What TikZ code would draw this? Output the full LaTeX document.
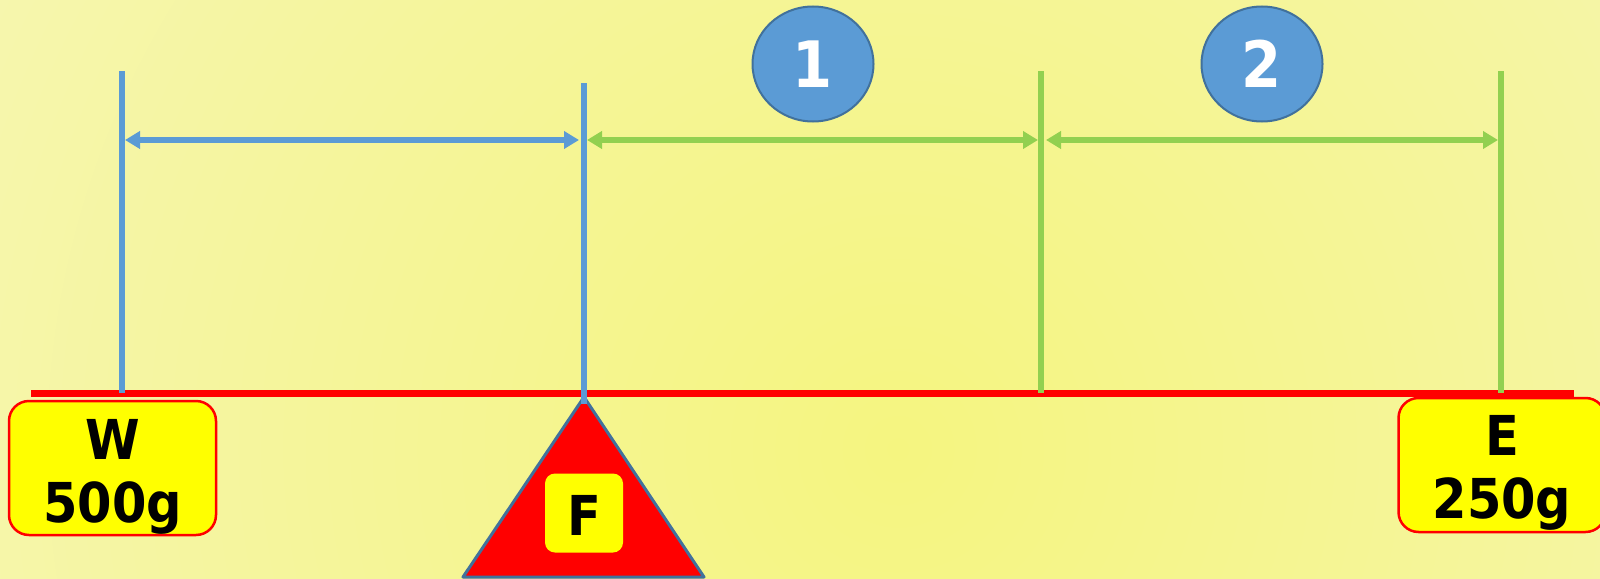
\documentclass[tikz,border=0pt]{standalone}
\usepackage{fontspec}
\setmainfont{DejaVu Sans Condensed}
\usepackage{tikz}
\usetikzlibrary{arrows.meta, shapes.geometric}
\definecolor{bgin}{RGB}{245, 245, 128}
\definecolor{bgout}{RGB}{246, 246, 204}
\definecolor{armblue}{RGB}{91, 155, 213}
\definecolor{armgreen}{RGB}{146, 208, 80}
\definecolor{rimblue}{RGB}{65, 113, 156}
\definecolor{boxyellow}{RGB}{255, 255, 0}

\begin{document}
\begin{tikzpicture}[x=1pt, y=-1pt,
    armline/.style={line width=5.5},
    dimarrow/.style={line width=5.5, {Triangle[length=15pt, width=17pt]}-{Triangle[length=15pt, width=17pt]}},
    weightbox/.style={draw=red, line width=2.5, fill=boxyellow, rounded corners=20,
      minimum width=207, minimum height=134},
    weighttext/.style={font=\fontsize{55}{63}\selectfont\bfseries, align=center},
    stepmark/.style={ellipse, draw=rimblue, line width=2, fill=armblue, text=white,
      minimum width=121, minimum height=115, font=\fontsize{64}{70}\selectfont\bfseries}]
  \useasboundingbox (0, 0) rectangle (1600, 578);
  \begin{scope}
    \clip (0, 0) rectangle (1600, 578);
    \shade[inner color=bgin, outer color=bgout] (-802, -1251) rectangle (2598, 2149);
  \end{scope}

  % fulcrum
  \coordinate (pivot) at (584, 397);
  \fill[red] (pivot) -- (463, 577) -- (704, 577) -- cycle;
  \draw[rimblue, line width=3, line join=round] (pivot) -- (463, 577) -- (704, 577) -- cycle;

  % lever
  \coordinate (beamleft) at (31, 393.5);
  \coordinate (beamright) at (1574, 393.5);
  \draw[red, line width=7] (beamleft) -- (beamright);

  \coordinate (wtop) at (122, 71);   \coordinate (wbot) at (122, 393);
  \coordinate (ftop) at (584, 83);   \coordinate (fbot) at (584, 404);
  \coordinate (mtop) at (1041, 71);  \coordinate (mbot) at (1041, 393);
  \coordinate (etop) at (1501, 71);  \coordinate (ebot) at (1501, 393);

  \draw[armline, armblue] (wtop) -- (wbot);
  \draw[armline, armblue] (ftop) -- (fbot);
  \draw[armline, armgreen] (mtop) -- (mbot);
  \draw[armline, armgreen] (etop) -- (ebot);

  \coordinate (wmark) at (122, 140);
  \coordinate (fmark) at (584, 140);
  \coordinate (mmark) at (1041, 140);
  \coordinate (emark) at (1501, 140);
  \draw[dimarrow, armblue, shorten <=3, shorten >=5] (wmark) -- (fmark);
  \draw[dimarrow, armgreen, shorten <=3, shorten >=3] (fmark) -- (mmark);
  \draw[dimarrow, armgreen, shorten <=5, shorten >=3] (mmark) -- (emark);

  \node[stepmark] (one) at (813, 64) {1};
  \node[stepmark] (two) at (1262, 64) {2};

  % weights
  \node[weightbox] (wbox) at (112.5, 468) {};
  \node[weighttext] (wlabel) at ([yshift=-9]wbox.center) {W\\500g};
  \node[weightbox] (ebox) at (1502, 465) {};
  \node[weighttext] (elabel) at ([yshift=-8]ebox.center) {E\\250g};

  \node[fill=boxyellow, rounded corners=10, minimum width=78, minimum height=79] (fbox) at (584, 513) {};
  \node[weighttext] (flabel) at (584, 515) {F};
\end{tikzpicture}
\end{document}
